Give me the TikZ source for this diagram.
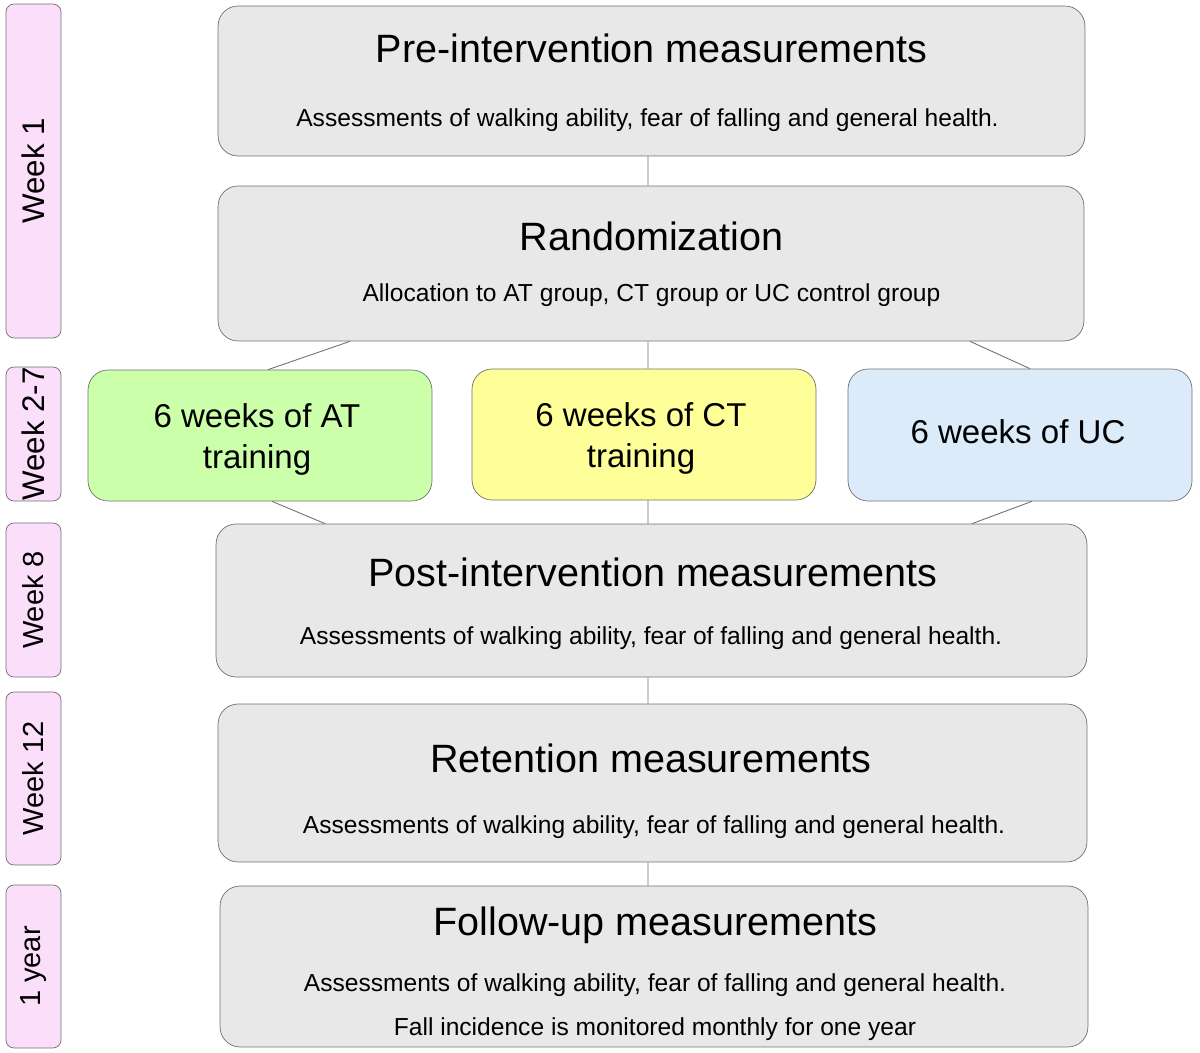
\documentclass[tikz,border=0pt]{standalone}
\usepackage{fontspec}
\setmainfont{Liberation Sans}
\usetikzlibrary{calc}
\begin{document}
\begin{tikzpicture}[x=0.02cm, y=-0.02cm, line join=round,
  box/.style={draw=boxline, fill=boxgray, rounded corners=0.4cm, inner sep=0pt},
  weekbox/.style={draw=boxline, fill=weekpink, rounded corners=0.16cm, inner sep=0pt,
    minimum width=1.1cm},
  weektext/.style={rotate=90, font=\fontsize{16.5}{19}\selectfont},
  bigweek/.style={weektext, font=\fontsize{17.8}{20}\selectfont},
  head/.style={font=\fontsize{22.5}{27}\selectfont, inner sep=0pt},
  sub/.style={font=\fontsize{14}{16}\selectfont, inner sep=0pt},
  grp/.style={font=\fontsize{18.8}{23.3}\selectfont, align=center, inner sep=0pt},
  link/.style={draw=boxline, line width=0.5pt}]
  \definecolor{boxgray}{RGB}{232,232,232}
  \definecolor{boxline}{RGB}{112,112,112}
  \definecolor{weekpink}{RGB}{250,222,250}
  \definecolor{atgreen}{RGB}{204,255,170}
  \definecolor{ctyellow}{RGB}{255,255,153}
  \definecolor{ucblue}{RGB}{220,235,250}
  \useasboundingbox (0,0) rectangle (1200,1053);
  % time line on the left
  \node[weekbox, minimum height=6.68cm] (w1) at (33.5,171) {};
  \node[weekbox, minimum height=2.68cm] (w2) at (33.5,434) {};
  \node[weekbox, minimum height=3.08cm] (w8) at (33.5,600) {};
  \node[weekbox, minimum height=3.46cm] (w12) at (33.5,778.5) {};
  \node[weekbox, minimum height=3.26cm] (wy) at (33.5,966.5) {};
  \node[bigweek] (w1t) at (w1) {Week 1};
  \node[bigweek] (w2t) at (w2) {Week 2-7};
  \node[weektext] (w8t) at (w8) {Week 8};
  \node[weektext] (w12t) at (w12) {Week 12};
  \node[weektext] (wyt) at (wy) {1 year};
  % study stages
  \node[box, minimum width=17.34cm, minimum height=3cm] (pre) at (651.5,81) {};
  \node[box, minimum width=17.32cm, minimum height=3.1cm] (rand) at (651,263.5) {};
  \node[box, fill=atgreen, minimum width=6.88cm, minimum height=2.62cm] (at) at (260,435.5) {};
  \node[box, fill=ctyellow, minimum width=6.88cm, minimum height=2.62cm] (ct) at (644,434.5) {};
  \node[box, fill=ucblue, minimum width=6.88cm, minimum height=2.64cm] (uc) at (1020,435) {};
  \node[box, minimum width=17.42cm, minimum height=3.06cm] (post) at (651.5,600.5) {};
  \node[box, minimum width=17.38cm, minimum height=3.16cm] (ret) at (652.5,783) {};
  \node[box, minimum width=17.36cm, minimum height=3.22cm] (fol) at (654,966.5) {};
  % texts
  \node[head] (preh) at (651.5,48) {Pre-intervention measurements};
  \node[sub] (pres) at (647.5,120) {Assessments of walking ability, fear of falling and general health.};
  \node[head] (randh) at (651.5,236) {Randomization};
  \node[sub] (rands) at (651.5,295) {Allocation to AT group, CT group or UC control group};
  \node[grp] (att) at (257,439) {6 weeks of AT\\training};
  \node[grp] (ctt) at (641,438) {6 weeks of CT\\training};
  \node[grp] (uct) at (1018,432) {6 weeks of UC};
  \node[head] (posth) at (653,572) {Post-intervention measurements};
  \node[sub] (posts) at (651,638) {Assessments of walking ability, fear of falling and general health.};
  \node[head] (reth) at (651,758) {Retention measurements};
  \node[sub] (rets) at (654,827) {Assessments of walking ability, fear of falling and general health.};
  \node[head] (folh) at (655.5,925) {Follow-up measurements};
  \node[sub] (fols) at (655,985) {Assessments of walking ability, fear of falling and general health.};
  \node[sub] (folf) at (655,1029) {Fall incidence is monitored monthly for one year};
  % connectors
  \draw[link] ([xshift=-0.07cm]pre.south) -- ([xshift=-0.06cm]rand.north);
  \draw[link] ([xshift=-6.02cm]rand.south) -- ([xshift=0.16cm]at.north);
  \draw[link] ([xshift=-0.06cm]rand.south) -- ([xshift=0.08cm]ct.north);
  \draw[link] ([xshift=6.38cm]rand.south) -- ([xshift=0.2cm]uc.north);
  \draw[link] ([xshift=0.24cm]at.south) -- ([xshift=-6.53cm]post.north);
  \draw[link] ([xshift=0.08cm]ct.south) -- ([xshift=-0.07cm]post.north);
  \draw[link] ([xshift=0.24cm]uc.south) -- ([xshift=6.41cm]post.north);
  \draw[link] ([xshift=-0.07cm]post.south) -- ([xshift=-0.09cm]ret.north);
  \draw[link] ([xshift=-0.09cm]ret.south) -- ([xshift=-0.12cm]fol.north);
\end{tikzpicture}
\end{document}
